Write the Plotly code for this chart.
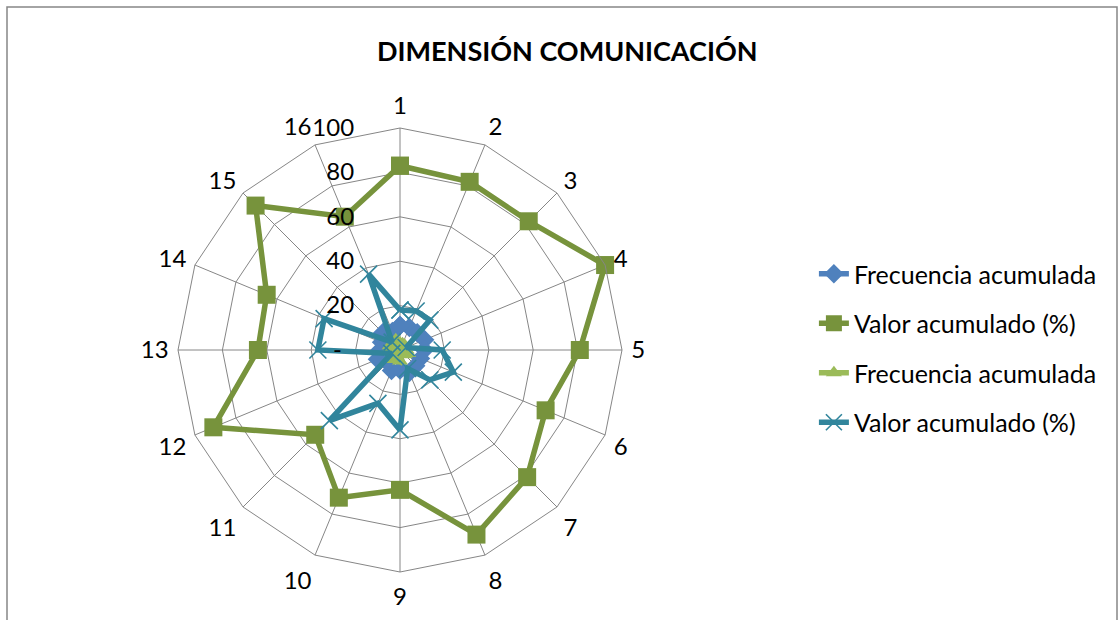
import plotly.graph_objects as go

# Ítems de la dimensión (ejes del radar)
categorias = [str(i) for i in range(1, 17)]

# Serie A
frecuencia_a = [11, 11, 11, 12, 11, 10, 10, 11, 9, 10, 8, 11, 9, 9, 11, 9]
valor_a = [83, 82, 82, 100, 81, 71, 81, 90, 63, 72, 54, 91, 64, 65, 92, 65]

# Serie B
frecuencia_b = [3, 3, 3, 1, 3, 4, 3, 2, 5, 4, 6, 1, 5, 5, 2, 5]
valor_b = [18, 19, 19, 3, 19, 26, 19, 9, 36, 26, 45, 4, 37, 37, 5, 37]

# Escala radial
radial_ticks = [0, 20, 40, 60, 80, 100]
radial_labels = ["-\u00a0\u00a0", "20", "40", "60", "80", "100"]

FONT = "Lato, Calibri, sans-serif"
GRID = "#868686"

W, H = 1118, 620
CX, CY, R = 400, 350, 222


def closed(vals):
    return list(vals) + [vals[0]]


series = [
    dict(name="Frecuencia acumulada", r=frecuencia_a, color="#4F81BD",
         symbol="diamond", size=15, lw=0),
    dict(name="Valor acumulado (%)", r=valor_a, color="#77933C",
         symbol="square", size=18, lw=0),
    dict(name="Frecuencia acumulada", r=frecuencia_b, color="#9BBB59",
         symbol="triangle-up", size=14, lw=0),
    dict(name="Valor acumulado (%)", r=valor_b, color="#31859C",
         symbol="x-thin", size=17, lw=1.6),
]

fig = go.Figure()
for i, s in enumerate(series):
    fig.add_trace(go.Scatterpolar(
        r=closed(s["r"]),
        theta=closed(categorias),
        mode="lines+markers",
        name=s["name"],
        legendgroup=f"g{i}",
        line=dict(color=s["color"], width=5.5),
        marker=dict(symbol=s["symbol"], size=s["size"], color=s["color"],
                    line=dict(color=s["color"], width=s["lw"])),
    ))

fig.update_layout(
    width=W, height=H, autosize=False,
    margin=dict(l=0, r=0, t=0, b=0),
    paper_bgcolor="white",
    font=dict(family=FONT, color="black"),
    showlegend=True,
    polar=dict(
        domain=dict(x=[(CX - R) / W, (CX + R) / W],
                    y=[(H - CY - R) / H, (H - CY + R) / H]),
        bgcolor="white",
        gridshape="linear",
        angularaxis=dict(
            type="category",
            categoryorder="array",
            categoryarray=categorias,
            direction="clockwise",
            rotation=90,
            showline=True, linecolor=GRID, linewidth=1,
            showgrid=True, gridcolor=GRID, gridwidth=1,
            ticks="outside", ticklen=4, tickcolor="rgba(0,0,0,0)",
            tickfont=dict(family=FONT, size=24, color="black"),
        ),
        radialaxis=dict(
            range=[0, 100],
            tickvals=radial_ticks,
            ticktext=radial_labels,
            angle=90,
            tickangle=90,
            side="counterclockwise",
            showline=False,
            showgrid=True, gridcolor=GRID, gridwidth=1,
            ticks="outside", ticklen=37, tickcolor="rgba(0,0,0,0)",
            tickfont=dict(family=FONT, size=24, color="black"),
        ),
    ),
    legend=dict(
        x=0.728, y=(H - 348) / H, xanchor="left", yanchor="middle",
        font=dict(family=FONT, size=25, color="black"),
        tracegroupgap=14,
        bgcolor="rgba(0,0,0,0)",
    ),
    annotations=[dict(
        text="<b>DIMENSIÓN COMUNICACIÓN</b>",
        x=567 / W, y=(H - 50) / H, xref="paper", yref="paper",
        xanchor="center", yanchor="middle", showarrow=False,
        font=dict(family=FONT, size=27, color="black"),
    )],
    shapes=[dict(
        type="rect", xref="paper", yref="paper",
        x0=7 / W, x1=1117 / W, y0=-0.2, y1=(H - 7) / H,
        line=dict(color=GRID, width=1.5), fillcolor="rgba(0,0,0,0)",
        layer="below",
    )],
)

fig.write_html("out.html")
